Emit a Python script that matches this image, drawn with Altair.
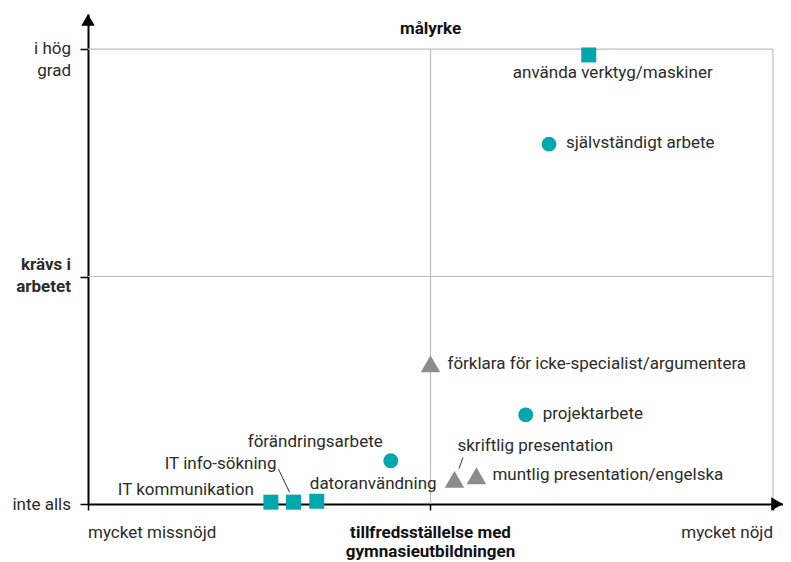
import altair as alt
import pandas as pd

# ---- data ----
names = [
    "använda verktyg/maskiner",
    "självständigt arbete",
    "förklara för icke-specialist/argumentera",
    "projektarbete",
    "förändringsarbete",
    "skriftlig presentation",
    "muntlig presentation/engelska",
    "IT info-sökning",
    "datoranvändning",
    "IT kommunikation",
]
satisfaction = [7.31, 6.73, 5.00, 6.39, 4.42, 5.35, 5.67, 3.00, 3.34, 2.67]
required = [9.87, 7.91, 3.08, 1.96, 0.95, 0.54, 0.62, 0.04, 0.06, 0.04]
groups = ["kvadrat", "cirkel", "triangel", "cirkel", "cirkel",
          "triangel", "triangel", "kvadrat", "kvadrat", "kvadrat"]

group_domain = ["kvadrat", "cirkel", "triangel"]
y_tick_values = [0, 5, 10]
x_tick_values = [0, 5, 10]
y_tick_labels = ["inte alls", "krävs i\narbetet", "i hög\ngrad"]
x_left_label = "mycket missnöjd"
x_right_label = "mycket nöjd"
x_title = "tillfredsställelse med\ngymnasieutbildningen"
top_title = "målyrke"

# ---- styles ----
FONT = "Roboto"
FS = 17
TEXT = "#2b2b2b"
TEAL = "#00a8ad"
GREY = "#8c8c8c"
GRID = "#bdbdbd"
X_MAX = 10.146
Y_MAX = 10.77
W, H = 695, 490

# marker style per group: (shape, colour, size)
marker_style = {
    "kvadrat": ("square", TEAL, 225),
    "cirkel": ("circle", TEAL, 220),
    "triangel": ("triangle-up", GREY, 380),
}

# label placement (dx, dy, align) per point, in pixels
label_style = [
    (24, 18, "center"),
    (17, -1, "left"),
    (17, 0, "left"),
    (17, -1, "left"),
    (-8, -19, "right"),
    (3, -33, "left"),
    (16, -1, "left"),
    (-17, -38, "right"),
    (-7, -17, "left"),
    (-17, -12, "right"),
]
# leader lines: (name, start dx, start dy, end dx, end dy)
leaders = [
    ("IT info-sökning", -15, -33, -4, -10),
    ("skriftlig presentation", 8.5, -22, 4.5, -11),
]

df = pd.DataFrame({"name": names, "x": satisfaction, "y": required, "group": groups})

xs = alt.Scale(domain=[0, X_MAX], nice=False, zero=False)
ys = alt.Scale(domain=[0, Y_MAX], nice=False, zero=False)

base = alt.Chart(df)

# axes (library axes give the black axis lines and ticks)
axes = alt.Chart(pd.DataFrame({"x": [0.0], "y": [0.0]})).mark_point(opacity=0).encode(
    x=alt.X("x:Q", scale=xs, axis=alt.Axis(values=x_tick_values, labels=False, title=None,
                                          grid=False, domainColor="black", domainWidth=2,
                                          tickColor="black", tickWidth=1.5, tickSize=6)),
    y=alt.Y("y:Q", scale=ys, axis=alt.Axis(values=y_tick_values, labels=False, title=None,
                                          grid=False, domainColor="black", domainWidth=2,
                                          tickColor="black", tickWidth=1.5, tickSize=8)),
)

# grid lines
hgrid = alt.Chart(pd.DataFrame({"y": [5, 10]})).mark_rule(color=GRID, strokeWidth=1.2).encode(
    y=alt.Y("y:Q", scale=ys), x=alt.datum(0, scale=xs), x2=alt.datum(10))
vgrid = alt.Chart(pd.DataFrame({"x": [5, 10]})).mark_rule(color=GRID, strokeWidth=1.2).encode(
    x=alt.X("x:Q", scale=xs), y=alt.datum(0, scale=ys), y2=alt.datum(10))

# arrow heads
arrow_up = alt.Chart(pd.DataFrame({"a": [0]})).mark_point(
    shape="triangle-up", filled=True, color="black", size=180, opacity=1, yOffset=6).encode(
    x=alt.datum(0, scale=xs), y=alt.datum(Y_MAX, scale=ys))
arrow_right = alt.Chart(pd.DataFrame({"a": [0]})).mark_point(
    shape="triangle-right", filled=True, color="black", size=180, opacity=1, xOffset=-6).encode(
    x=alt.datum(X_MAX, scale=xs), y=alt.datum(0, scale=ys))

layers = [hgrid, vgrid, axes, arrow_up, arrow_right]

for (nm, sdx, sdy, edx, edy) in leaders:
    layers.append(base.transform_filter(alt.datum.name == nm).mark_rule(
        color="#333333", strokeWidth=1, xOffset=sdx, yOffset=sdy, x2Offset=edx, y2Offset=edy).encode(
        x=alt.X("x:Q", scale=xs), y=alt.Y("y:Q", scale=ys), x2="x:Q", y2="y:Q"))

# points, one layer per marker group
for g in group_domain:
    shp, col, sz = marker_style[g]
    layers.append(base.transform_filter(alt.datum.group == g).mark_point(
        filled=True, opacity=1, shape=shp, color=col, size=sz).encode(
        x=alt.X("x:Q", scale=xs), y=alt.Y("y:Q", scale=ys)))

for nm, (dx, dy, al) in zip(names, label_style):
    layers.append(base.transform_filter(alt.datum.name == nm).mark_text(
        font=FONT, fontSize=FS, color=TEXT, dx=dx, dy=dy, align=al, baseline="middle").encode(
        x=alt.X("x:Q", scale=xs), y=alt.Y("y:Q", scale=ys), text="name:N"))

# y-axis labels
ylab_style = [(1, "normal"), (-12, "bold"), (0, "normal")]
for val, lab, (dy, fw) in zip(y_tick_values, y_tick_labels, ylab_style):
    layers.append(alt.Chart(pd.DataFrame({"t": [lab]})).mark_text(
        font=FONT, fontSize=FS, color=TEXT, fontWeight=fw, align="right", baseline="middle",
        dx=-17, dy=dy, lineBreak="\n", lineHeight=22).encode(
        x=alt.datum(0, scale=xs), y=alt.datum(val, scale=ys), text="t:N"))

# x-axis labels and titles
layers.append(alt.Chart(pd.DataFrame({"t": [x_left_label]})).mark_text(
    font=FONT, fontSize=FS, color=TEXT, align="left", baseline="middle", dy=29).encode(
    x=alt.datum(x_tick_values[0], scale=xs), y=alt.datum(0, scale=ys), text="t:N"))
layers.append(alt.Chart(pd.DataFrame({"t": [x_right_label]})).mark_text(
    font=FONT, fontSize=FS, color=TEXT, align="right", baseline="middle", dy=29).encode(
    x=alt.datum(x_tick_values[2], scale=xs), y=alt.datum(0, scale=ys), text="t:N"))
layers.append(alt.Chart(pd.DataFrame({"t": [x_title]})).mark_text(
    font=FONT, fontSize=FS, color="#111111", fontWeight="bold", align="center", baseline="middle",
    dy=29, lineBreak="\n", lineHeight=19).encode(
    x=alt.datum(x_tick_values[1], scale=xs), y=alt.datum(0, scale=ys), text="t:N"))
layers.append(alt.Chart(pd.DataFrame({"t": [top_title]})).mark_text(
    font=FONT, fontSize=FS, color="#111111", fontWeight="bold", align="center", baseline="middle",
    dy=-20).encode(
    x=alt.datum(5, scale=xs), y=alt.datum(10, scale=ys), text="t:N"))

chart = alt.layer(*layers).properties(
    width=W, height=H,
    autosize=alt.AutoSizeParams(type="none"),
    padding={"left": 80, "top": 6, "right": 0, "bottom": 66},
).configure_view(stroke=None).configure_axis(labels=False)

chart.save("out.html", embed_options={"renderer": "svg", "actions": False})
